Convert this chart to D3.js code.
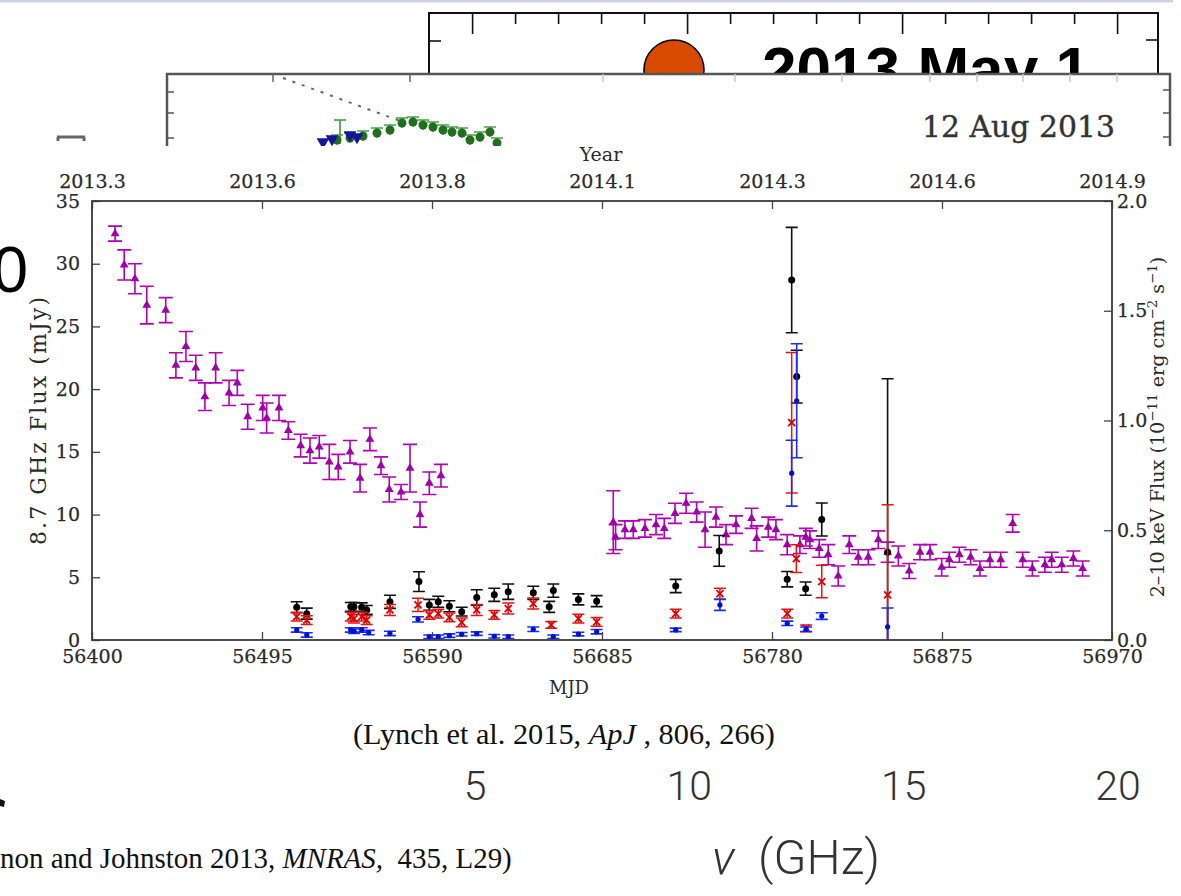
<!DOCTYPE html>
<html>
<head>
<meta charset="utf-8">
<script src="https://cdn.jsdelivr.net/npm/d3@7"></script>
<style>
  body { margin: 0; background: #fff; }
  svg { display: block; }
</style>
</head>
<body>
<svg width="1181" height="896"></svg>
<script>
/*
Data.
Radio points: [MJD, flux mJy, error]. X-ray points: [MJD, flux 1e-11 erg/cm2/s, error]
*/
var mjdTicks = [56400, 56495, 56590, 56685, 56780, 56875, 56970],
    yearLabels = ["2013.3", "2013.6", "2013.8", "2014.1", "2014.3", "2014.6", "2014.9"],
    leftTicks = [0, 5, 10, 15, 20, 25, 30, 35],
    rightTicks = [0, 0.5, 1.0, 1.5, 2.0];

var radio = [
  [56412.9, 32.4, 0.6], [56418.0, 29.9, 1.2], [56424.0, 28.8, 1.2], [56430.6, 26.7, 1.5],
  [56441.2, 26.3, 1.0], [56446.9, 21.9, 1.0], [56452.5, 23.4, 1.2], [56458.0, 21.7, 1.0],
  [56463.1, 19.4, 1.1], [56469.1, 21.7, 1.2], [56476.6, 19.7, 1.0], [56481.2, 20.5, 1.0],
  [56487.0, 17.8, 1.0], [56495.4, 18.5, 1.0], [56497.6, 17.7, 1.2], [56504.5, 18.5, 1.0],
  [56509.7, 16.7, 0.7], [56516.6, 15.5, 0.9], [56521.8, 15.1, 1.0], [56527.0, 15.4, 0.9],
  [56532.6, 14.2, 1.4], [56537.6, 13.8, 1.0], [56544.2, 15.0, 0.9], [56549.8, 12.9, 1.1],
  [56555.3, 16.0, 0.9], [56561.5, 13.9, 0.7], [56566.1, 12.0, 1.0], [56572.7, 11.8, 0.6],
  [56577.7, 13.7, 1.9], [56583.3, 10.0, 1.0], [56588.5, 12.5, 0.9], [56595.0, 13.1, 0.9],
  [56691.3, 9.4, 2.5], [56692.6, 8.2, 1.0], [56697.8, 8.8, 0.7], [56702.5, 8.8, 0.7],
  [56709.0, 8.9, 0.7], [56715.2, 9.2, 0.8], [56719.8, 8.9, 0.8], [56725.8, 10.1, 0.8],
  [56732.0, 10.9, 0.8], [56737.9, 10.2, 0.8], [56742.6, 8.8, 1.4], [56748.7, 9.8, 0.8],
  [56754.3, 8.4, 0.8], [56759.9, 9.2, 0.7], [56768.6, 9.7, 0.8], [56771.4, 8.1, 1.0],
  [56777.9, 9.0, 0.8], [56782.2, 8.8, 0.8], [56788.5, 7.6, 0.8], [56795.6, 7.6, 0.7],
  [56798.9, 8.2, 0.7], [56801.2, 8.0, 0.7], [56806.4, 7.3, 0.7], [56811.4, 6.8, 0.8],
  [56817.0, 5.1, 0.8], [56823.2, 7.6, 0.7], [56828.2, 6.6, 0.6], [56833.8, 6.6, 0.6],
  [56839.4, 8.0, 0.7], [56844.6, 7.0, 0.8], [56850.6, 6.7, 0.8], [56856.7, 5.5, 0.6],
  [56862.7, 7.0, 0.6], [56868.3, 7.0, 0.6], [56874.8, 5.8, 0.7], [56879.1, 6.4, 0.6],
  [56884.7, 6.8, 0.6], [56891.0, 6.6, 0.6], [56896.2, 5.7, 0.6], [56901.8, 6.4, 0.6],
  [56907.8, 6.4, 0.6], [56914.5, 9.3, 0.7], [56920.1, 6.4, 0.6], [56925.5, 5.7, 0.6],
  [56932.5, 6.0, 0.6], [56936.3, 6.4, 0.6], [56941.9, 6.0, 0.6], [56948.4, 6.5, 0.6],
  [56953.6, 5.7, 0.6]
];

var xrayBlack = [
  [56514.4, 0.149, 0.025], [56520.0, 0.120, 0.025], [56544.6, 0.151, 0.02], [56546.4, 0.151, 0.02],
  [56550.7, 0.149, 0.02], [56553.5, 0.137, 0.02], [56566.5, 0.174, 0.03], [56582.7, 0.266, 0.045],
  [56588.5, 0.160, 0.025], [56593.5, 0.174, 0.025], [56599.7, 0.154, 0.025], [56606.6, 0.129, 0.02],
  [56615.0, 0.194, 0.035], [56624.8, 0.206, 0.03], [56632.6, 0.220, 0.035], [56646.6, 0.215, 0.03],
  [56655.5, 0.151, 0.025], [56657.8, 0.225, 0.03], [56671.8, 0.185, 0.025], [56682.0, 0.177, 0.025],
  [56726.2, 0.246, 0.03], [56750.5, 0.406, 0.07], [56788.5, 0.277, 0.035], [56791.0, 1.64, 0.24],
  [56793.8, 1.20, 0.12], [56798.8, 0.234, 0.03], [56807.8, 0.549, 0.075], [56844.6, 0.40, 0.79]
];

var xrayRed = [
  [56514.4, 0.106, 0.02], [56520.0, 0.091, 0.02], [56544.6, 0.106, 0.02], [56546.4, 0.097, 0.02],
  [56550.7, 0.106, 0.02], [56553.5, 0.091, 0.02], [56566.5, 0.137, 0.025], [56582.2, 0.160, 0.03],
  [56588.5, 0.114, 0.02], [56593.5, 0.120, 0.02], [56599.7, 0.103, 0.02], [56606.6, 0.080, 0.02],
  [56615.0, 0.137, 0.025], [56624.8, 0.114, 0.02], [56632.6, 0.143, 0.025], [56646.6, 0.166, 0.025],
  [56656.6, 0.069, 0.015], [56671.8, 0.097, 0.02], [56682.0, 0.083, 0.02], [56726.2, 0.120, 0.02],
  [56750.9, 0.211, 0.025], [56788.5, 0.120, 0.02], [56791.0, 0.99, 0.32], [56793.6, 0.371, 0.063],
  [56799.1, 0.053, 0.015], [56807.8, 0.266, 0.074], [56844.6, 0.206, 0.41]
];

var xrayBlue = [
  [56514.4, 0.046, 0.01], [56520.0, 0.023, 0.01], [56544.6, 0.046, 0.01], [56546.4, 0.040, 0.01],
  [56550.7, 0.046, 0.01], [56554.6, 0.034, 0.01], [56566.5, 0.030, 0.01], [56582.2, 0.094, 0.012],
  [56588.5, 0.015, 0.008], [56593.5, 0.015, 0.008], [56599.7, 0.020, 0.008], [56606.6, 0.026, 0.008],
  [56615.0, 0.029, 0.008], [56624.8, 0.017, 0.008], [56632.6, 0.015, 0.008], [56646.6, 0.049, 0.01],
  [56657.8, 0.015, 0.008], [56671.8, 0.027, 0.008], [56682.0, 0.038, 0.01], [56726.2, 0.046, 0.008],
  [56750.9, 0.160, 0.025], [56788.5, 0.076, 0.01], [56791.0, 0.76, 0.15], [56793.8, 1.09, 0.26],
  [56799.1, 0.049, 0.01], [56807.8, 0.109, 0.015], [56844.6, 0.060, 0.086]
];

/* fragments of the slides lying underneath (arbitrary panel units) */
var midGreen = [[170, 6], [183, 8], [196, 10], [210, 13], [223, 16], [235, 23], [246, 24], [256, 21],
                [266, 19], [276, 16], [285, 14], [295, 13], [303, 6], [313, 9], [323, 14], [330, 3]],
    midGreenErr = [[173, 14, 12]],
    midBlue = [[156, 4], [165, 7], [183, 11], [190, 9]],
    midDotted = [[116, 68], [236, 24]],
    midTicksDark = [106, 243],
    midTicksFaint = [436, 568, 675, 763, 810, 856, 903, 950],
    midLeftTicks = [54, 33, 8],
    midRightTicks = [56, 33, 9],
    nuTicks = [5, 10, 15, 20];

var svg = d3.select("svg");

/* fit a text to a measured length by scaling its font size */
function fit(sel, len) {
  var cur = sel.node().getComputedTextLength();
  var fs = parseFloat(sel.attr("font-size"));
  sel.attr("font-size", fs * len / cur);
}

/*
Back slide: frame, sun and date
*/
svg.append("rect").attr("x", 0).attr("y", 0).attr("width", 1173).attr("height", 2.5).attr("fill", "#cdd1e4");

var back = svg.append("g");
back.append("path")
  .attr("d", "M429,120 V13 H1158 V120")
  .attr("fill", "none").attr("stroke", "#111").attr("stroke-width", 2);
var backX = d3.scaleLinear().domain([0, 15]).range([472.6, 1117.6]);
back.selectAll(".btick").data(d3.range(0, 16)).enter().append("line")
  .attr("x1", function(d) { return backX(d); })
  .attr("x2", function(d) { return backX(d); })
  .attr("y1", 13)
  .attr("y2", function(d) { return d % 5 === 0 ? 34 : 24; })
  .attr("stroke", "#111").attr("stroke-width", 1.6);
back.append("line").attr("x1", 429).attr("x2", 441).attr("y1", 41).attr("y2", 41).attr("stroke", "#111").attr("stroke-width", 1.6);
back.append("line").attr("x1", 1158).attr("x2", 1146).attr("y1", 40).attr("y2", 40).attr("stroke", "#111").attr("stroke-width", 1.6);
back.append("circle").attr("cx", 674).attr("cy", 70).attr("r", 30)
  .attr("fill", "#d84a00").attr("stroke", "#000").attr("stroke-width", 1.6);
var may = back.append("text").attr("x", 762).attr("y", 91)
  .attr("font-family", "Liberation Sans, Arial, sans-serif").attr("font-weight", "bold")
  .attr("font-size", 62).attr("fill", "#000").text("2013 May 1");
fit(may, 328);

/*
Middle slide: panel with light curve fragment
*/
var midX = d3.scaleLinear().domain([0, 1003]).range([167, 1170]),
    midY = d3.scaleLinear().domain([0, 72]).range([146, 74]);
var mid = svg.append("g");
mid.append("rect").attr("x", 167).attr("y", 74).attr("width", 1003).attr("height", 120)
  .attr("fill", "#fff").attr("stroke", "#555").attr("stroke-width", 2.5);
mid.selectAll(".mtd").data(midTicksDark).enter().append("line")
  .attr("x1", function(d) { return midX(d); }).attr("x2", function(d) { return midX(d); })
  .attr("y1", 74).attr("y2", 82).attr("stroke", "#666").attr("stroke-width", 1.5);
mid.selectAll(".mtf").data(midTicksFaint).enter().append("line")
  .attr("x1", function(d) { return midX(d); }).attr("x2", function(d) { return midX(d); })
  .attr("y1", 74).attr("y2", 82).attr("stroke", "#c8c8c8").attr("stroke-width", 1.5);
mid.selectAll(".mtl").data(midLeftTicks).enter().append("line")
  .attr("x1", 167).attr("x2", 174)
  .attr("y1", function(d) { return midY(d); }).attr("y2", function(d) { return midY(d); })
  .attr("stroke", "#555").attr("stroke-width", 1.5);
mid.selectAll(".mtr").data(midRightTicks).enter().append("line")
  .attr("x1", 1170).attr("x2", 1163)
  .attr("y1", function(d) { return midY(d); }).attr("y2", function(d) { return midY(d); })
  .attr("stroke", "#555").attr("stroke-width", 1.5);
mid.append("path")
  .attr("d", d3.line().x(function(d) { return midX(d[0]); }).y(function(d) { return midY(d[1]); })(midDotted))
  .attr("stroke", "#666").attr("stroke-width", 2).attr("stroke-dasharray", "3,7").attr("fill", "none");
mid.selectAll(".gerr").data(midGreenErr).enter().append("path")
  .attr("d", function(d) {
    var x = midX(d[0]), y1 = midY(d[1] + d[2]), y2 = midY(d[1] - d[2]);
    return "M" + x + "," + y1 + "V" + y2 + "M" + (x - 6) + "," + y1 + "H" + (x + 6);
  })
  .attr("stroke", "#3a9a3a").attr("stroke-width", 1.6).attr("fill", "none");
mid.selectAll(".gcap").data(midGreen).enter().append("path")
  .attr("d", function(d) {
    var x = midX(d[0]), y = midY(d[1]);
    return "M" + (x - 6) + "," + (y - 5) + "H" + (x + 6) + "M" + x + "," + (y - 5) + "V" + (y + 5);
  })
  .attr("stroke", "#4aa04a").attr("stroke-width", 1.4);
mid.selectAll(".gpt").data(midGreen).enter().append("circle")
  .attr("cx", function(d) { return midX(d[0]); }).attr("cy", function(d) { return midY(d[1]); })
  .attr("r", 4.5).attr("fill", "#1f6f1f");
mid.selectAll(".bpt").data(midBlue).enter().append("path")
  .attr("transform", function(d) { return "translate(" + midX(d[0]) + "," + midY(d[1]) + ") rotate(180)"; })
  .attr("d", d3.symbol().type(d3.symbolTriangle).size(70))
  .attr("fill", "#14149a");
var aug = mid.append("text").attr("x", 922).attr("y", 137)
  .attr("font-family", "DejaVu Serif, serif").attr("font-size", 28)
  .attr("fill", "#333").attr("stroke", "#333").attr("stroke-width", 0.4).text("12 Aug 2013");
fit(aug, 193);

/* stray fragment at far left */
svg.append("path").attr("d", "M57,137 H85 M58,137 V141 M84,137 V141")
  .attr("stroke", "#666").attr("stroke-width", 3).attr("fill", "none");

/*
Main chart: 8.7 GHz and X-ray light curves
*/
svg.append("rect").attr("x", 0).attr("y", 146).attr("width", 1181).attr("height", 560).attr("fill", "#fff");

var x = d3.scaleLinear().domain([56400, 56970]).range([92, 1112]),
    yL = d3.scaleLinear().domain([0, 35]).range([640, 201]),
    yR = d3.scaleLinear().domain([0, 2]).range([640, 201]);

var font = "DejaVu Serif, serif";

svg.append("clipPath").attr("id", "plotclip")
  .append("rect").attr("x", 92).attr("y", 201).attr("width", 1020).attr("height", 439);

function styleAxis(g) {
  g.select(".domain").remove();
  g.selectAll(".tick line").attr("stroke", "#444").attr("stroke-width", 1.3);
  g.selectAll(".tick text").attr("font-family", font).attr("font-size", 19)
    .attr("fill", "#2a2a2a").attr("stroke", "#2a2a2a").attr("stroke-width", 0.25);
}

svg.append("g").attr("transform", "translate(0,640)")
  .call(d3.axisBottom(x).tickValues(mjdTicks).tickFormat(d3.format("d"))
    .tickSizeInner(-8).tickSizeOuter(0).tickPadding(10))
  .call(styleAxis);

svg.append("g").attr("transform", "translate(0,201)")
  .call(d3.axisTop(x).tickValues(mjdTicks).tickFormat(function(d, i) { return yearLabels[i]; })
    .tickSizeInner(-8).tickSizeOuter(0).tickPadding(13))
  .call(styleAxis);

svg.append("g").attr("transform", "translate(92,0)")
  .call(d3.axisLeft(yL).tickValues(leftTicks).tickFormat(d3.format("d"))
    .tickSizeInner(-8).tickSizeOuter(0).tickPadding(12))
  .call(styleAxis);

svg.append("g").attr("transform", "translate(1112,0)")
  .call(d3.axisRight(yR).tickValues(rightTicks).tickFormat(d3.format(".1f"))
    .tickSizeInner(-8).tickSizeOuter(0).tickPadding(5))
  .call(styleAxis);

/* data */
var plot = svg.append("g").attr("clip-path", "url(#plotclip)");

function errorBars(data, yScale, color, cap, width) {
  plot.append("g").selectAll("path").data(data).enter().append("path")
    .attr("d", function(d) {
      var px = x(d[0]), y1 = yScale(d[1] + d[2]), y2 = yScale(d[1] - d[2]);
      return "M" + px + "," + y1 + "V" + y2 +
             "M" + (px - cap) + "," + y1 + "H" + (px + cap) +
             "M" + (px - cap) + "," + y2 + "H" + (px + cap);
    })
    .attr("stroke", color).attr("stroke-width", width).attr("fill", "none");
}

// radio (magenta triangles)
errorBars(radio, yL, "#b400b4", 7, 1.6);
plot.append("g").selectAll("path").data(radio).enter().append("path")
  .attr("transform", function(d) { return "translate(" + x(d[0]) + "," + yL(d[1]) + ")"; })
  .attr("d", d3.symbol().type(d3.symbolTriangle).size(34))
  .attr("fill", "#a000a8");

// X-ray black
errorBars(xrayBlack, yR, "#111", 6, 1.6);
plot.append("g").selectAll("circle").data(xrayBlack).enter().append("circle")
  .attr("cx", function(d) { return x(d[0]); }).attr("cy", function(d) { return yR(d[1]); })
  .attr("r", 3.5).attr("fill", "#000");

// X-ray red crosses
errorBars(xrayRed, yR, "#f01010", 6, 1.5);
plot.append("g").selectAll("path").data(xrayRed).enter().append("path")
  .attr("d", function(d) {
    var px = x(d[0]), py = yR(d[1]), s = 3.5;
    return "M" + (px - s) + "," + (py - s) + "L" + (px + s) + "," + (py + s) +
           "M" + (px - s) + "," + (py + s) + "L" + (px + s) + "," + (py - s);
  })
  .attr("stroke", "#e00000").attr("stroke-width", 1.8);

// X-ray blue
errorBars(xrayBlue, yR, "#1a2cff", 6, 1.6);
plot.append("g").selectAll("circle").data(xrayBlue).enter().append("circle")
  .attr("cx", function(d) { return x(d[0]); }).attr("cy", function(d) { return yR(d[1]); })
  .attr("r", 2.6).attr("fill", "#0010d0");

/* frame */
svg.append("rect").attr("x", 92).attr("y", 201).attr("width", 1020).attr("height", 439)
  .attr("fill", "none").attr("stroke", "#3a3a3a").attr("stroke-width", 1.8);

/* axis titles */
svg.append("text").attr("x", 601).attr("y", 161).attr("text-anchor", "middle")
  .attr("font-family", font).attr("font-size", 19).attr("fill", "#2a2a2a").text("Year");
svg.append("text").attr("x", 569).attr("y", 694).attr("text-anchor", "middle")
  .attr("font-family", font).attr("font-size", 18).attr("fill", "#2a2a2a").text("MJD");

svg.append("text").attr("transform", "translate(46,421) rotate(-90)").attr("text-anchor", "middle")
  .attr("font-family", font).attr("font-size", 22).attr("fill", "#2a2a2a")
  .attr("textLength", 248).attr("lengthAdjust", "spacing")
  .text("8.7 GHz Flux (mJy)");

var yr = svg.append("text").attr("transform", "translate(1164,427) rotate(-90)").attr("text-anchor", "middle")
  .attr("font-family", font).attr("font-size", 18).attr("fill", "#2a2a2a");
yr.append("tspan").text("2\u201310 keV Flux (10");
yr.append("tspan").attr("dy", -7).attr("font-size", "0.7em").text("\u221211");
yr.append("tspan").attr("dy", 7).text(" erg cm");
yr.append("tspan").attr("dy", -7).attr("font-size", "0.7em").text("\u22122");
yr.append("tspan").attr("dy", 7).text(" s");
yr.append("tspan").attr("dy", -7).attr("font-size", "0.7em").text("\u22121");
yr.append("tspan").attr("dy", 7).text(")");
fit(yr, 341);

/*
Overlaid text from the slide
*/
svg.append("text").attr("x", 28).attr("y", 292).attr("text-anchor", "end")
  .attr("font-family", "Liberation Sans, Arial, sans-serif").attr("font-size", 64)
  .attr("fill", "#000").text("0");

var serif = "Liberation Serif, Times New Roman, serif";
var lynch = svg.append("text").attr("x", 353).attr("y", 744)
  .attr("font-family", serif).attr("font-size", 28).attr("fill", "#111");
lynch.append("tspan").text("(Lynch et al. 2015, ");
lynch.append("tspan").attr("font-style", "italic").text("ApJ");
lynch.append("tspan").text(" , 806, 266)");
fit(lynch, 422);

var nuX = d3.scaleLinear().domain([5, 20]).range([475, 1118]);
svg.append("g").selectAll("text").data(nuTicks).enter().append("text")
  .attr("x", function(d) { return nuX(d); }).attr("y", 800).attr("text-anchor", "middle")
  .attr("font-family", "Roboto, Liberation Sans, sans-serif").attr("font-weight", 300)
  .attr("font-size", 41).attr("fill", "#333").text(function(d) { return d; });

svg.append("path").attr("d", "M0,799 L5,801 L4,807 L0,806 Z").attr("fill", "#111");

var carig = svg.append("text").attr("x", 0).attr("y", 868)
  .attr("font-family", serif).attr("font-size", 30).attr("fill", "#111");
carig.append("tspan").text("non and Johnston 2013, ");
carig.append("tspan").attr("font-style", "italic").text("MNRAS,");
carig.append("tspan").attr("xml:space", "preserve").text("  435, L29)");
fit(carig, 512);

var nu = svg.append("text").attr("x", 712).attr("y", 874)
  .attr("font-family", "Roboto, Liberation Sans, sans-serif").attr("font-weight", 300)
  .attr("font-size", 38).attr("fill", "#333");
nu.append("tspan").attr("font-style", "italic").text("\u03bd");
nu.append("tspan").attr("xml:space", "preserve").text("  (GHz)");
fit(nu, 168);
</script>
</body>
</html>
